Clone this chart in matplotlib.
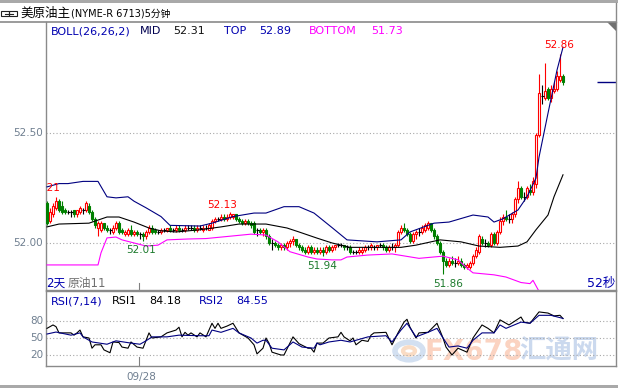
import numpy as np
import matplotlib
matplotlib.use('Agg')
import matplotlib.pyplot as plt
from matplotlib.patches import Polygon, Rectangle, Circle
from matplotlib.lines import Line2D

plt.rcParams['font.family'] = ['DejaVu Sans', 'Noto Sans CJK SC']

# 5 minute candles, one per bar
opens = [52.18, 52.10, 52.13, 52.16, 52.19, 52.17, 52.15, 52.14, 52.14, 52.15,
         52.13, 52.14, 52.15, 52.15, 52.17, 52.14, 52.11, 52.07, 52.06, 52.09,
         52.07, 52.06, 52.05, 52.07, 52.09, 52.06, 52.04, 52.04, 52.06, 52.04,
         52.05, 52.04, 52.04, 52.03, 52.05, 52.07, 52.06, 52.05, 52.05, 52.06,
         52.06, 52.07, 52.06, 52.06, 52.07, 52.06, 52.06, 52.07, 52.07, 52.07,
         52.06, 52.07, 52.06, 52.07, 52.06, 52.07, 52.10, 52.11, 52.11, 52.12,
         52.11, 52.12, 52.12, 52.13, 52.11, 52.10, 52.09, 52.10, 52.09, 52.09,
         52.06, 52.06, 52.05, 52.06, 52.03, 52.00, 52.00, 51.99, 51.98, 51.99,
         51.98, 52.00, 52.01, 52.02, 51.99, 51.98, 51.97, 51.96, 51.98, 51.96,
         51.97, 51.96, 51.97, 51.96, 51.98, 51.97, 51.98, 51.99, 51.99, 51.99,
         51.98, 51.98, 51.96, 51.96, 51.96, 51.96, 51.97, 51.98, 51.98, 51.98,
         51.98, 51.99, 51.99, 51.98, 51.97, 51.98, 51.98, 51.99, 52.05, 52.07,
         52.06, 52.04, 52.01, 52.04, 52.05, 52.05, 52.06, 52.07, 52.09, 52.06,
         52.03, 52.00, 51.96, 51.92, 51.90, 51.92, 51.91, 51.91, 51.92, 51.90,
         51.89, 51.89, 51.91, 51.94, 51.96, 52.02, 52.00, 52.00, 51.99, 52.04,
         52.00, 52.05, 52.10, 52.12, 52.11, 52.11, 52.13, 52.20, 52.25, 52.21,
         52.21, 52.24, 52.23, 52.27, 52.49, 52.67, 52.66, 52.70, 52.66, 52.69,
         52.70, 52.74, 52.76]
highs = [52.19, 52.16, 52.18, 52.21, 52.20, 52.19, 52.16, 52.15, 52.15, 52.15,
         52.15, 52.17, 52.16, 52.19, 52.18, 52.15, 52.12, 52.10, 52.10, 52.09,
         52.08, 52.07, 52.08, 52.10, 52.10, 52.07, 52.06, 52.07, 52.08, 52.06,
         52.06, 52.05, 52.05, 52.06, 52.08, 52.08, 52.07, 52.06, 52.07, 52.07,
         52.07, 52.08, 52.07, 52.08, 52.08, 52.07, 52.08, 52.08, 52.08, 52.08,
         52.08, 52.08, 52.08, 52.08, 52.09, 52.11, 52.12, 52.12, 52.13, 52.13,
         52.13, 52.14, 52.13, 52.13, 52.12, 52.11, 52.11, 52.11, 52.10, 52.10,
         52.07, 52.07, 52.07, 52.07, 52.04, 52.02, 52.01, 52.00, 52.00, 52.00,
         52.01, 52.02, 52.03, 52.02, 52.00, 51.99, 51.98, 51.99, 51.99, 51.98,
         51.98, 51.98, 51.98, 51.99, 51.99, 51.99, 51.99, 52.00, 52.00, 51.99,
         51.99, 51.99, 51.97, 51.97, 51.98, 51.98, 51.99, 51.99, 52.00, 51.99,
         51.99, 52.00, 52.00, 51.99, 51.99, 52.00, 52.00, 52.06, 52.08, 52.09,
         52.07, 52.05, 52.05, 52.06, 52.07, 52.08, 52.09, 52.10, 52.09, 52.07,
         52.04, 52.01, 51.97, 51.93, 51.93, 51.94, 51.93, 51.94, 51.93, 51.91,
         51.91, 51.92, 51.95, 51.98, 52.04, 52.03, 52.02, 52.01, 52.05, 52.05,
         52.06, 52.12, 52.13, 52.15, 52.13, 52.14, 52.21, 52.28, 52.26, 52.23,
         52.26, 52.27, 52.30, 52.50, 52.77, 52.72, 52.82, 52.71, 52.72, 52.73,
         52.78, 52.86, 52.77]
lows = [52.08, 52.09, 52.12, 52.15, 52.14, 52.13, 52.13, 52.13, 52.12, 52.12,
        52.12, 52.13, 52.13, 52.14, 52.13, 52.10, 52.07, 52.03, 52.05, 52.06,
        52.05, 52.04, 52.04, 52.06, 52.04, 52.04, 52.03, 52.03, 52.03, 52.03,
        52.03, 52.02, 52.01, 52.02, 52.04, 52.04, 52.04, 52.04, 52.04, 52.05,
        52.05, 52.05, 52.05, 52.05, 52.05, 52.05, 52.05, 52.06, 52.06, 52.05,
        52.05, 52.06, 52.05, 52.06, 52.06, 52.06, 52.09, 52.10, 52.10, 52.10,
        52.10, 52.11, 52.11, 52.10, 52.09, 52.08, 52.08, 52.08, 52.07, 52.04,
        52.03, 52.04, 52.03, 52.02, 51.99, 51.97, 51.98, 51.97, 51.97, 51.97,
        51.97, 51.98, 51.99, 51.98, 51.97, 51.96, 51.95, 51.95, 51.95, 51.95,
        51.95, 51.95, 51.94, 51.95, 51.96, 51.96, 51.97, 51.98, 51.98, 51.97,
        51.97, 51.95, 51.95, 51.95, 51.95, 51.95, 51.96, 51.97, 51.97, 51.97,
        51.97, 51.98, 51.97, 51.96, 51.96, 51.97, 51.96, 51.98, 52.04, 52.05,
        52.03, 52.00, 52.00, 52.02, 52.03, 52.04, 52.05, 52.06, 52.05, 52.02,
        51.99, 51.95, 51.86, 51.89, 51.89, 51.90, 51.89, 51.90, 51.89, 51.88,
        51.88, 51.88, 51.90, 51.93, 51.95, 51.99, 51.98, 51.98, 51.98, 51.99,
        51.99, 52.04, 52.08, 52.10, 52.09, 52.09, 52.12, 52.18, 52.20, 52.19,
        52.20, 52.22, 52.22, 52.25, 52.48, 52.63, 52.65, 52.65, 52.64, 52.68,
        52.69, 52.73, 52.72]
closes = [52.09, 52.14, 52.17, 52.19, 52.15, 52.14, 52.14, 52.14, 52.14, 52.13,
          52.15, 52.16, 52.15, 52.18, 52.14, 52.11, 52.08, 52.09, 52.09, 52.07,
          52.06, 52.06, 52.07, 52.09, 52.05, 52.05, 52.05, 52.06, 52.04, 52.05,
          52.04, 52.04, 52.03, 52.05, 52.07, 52.05, 52.05, 52.05, 52.06, 52.06,
          52.07, 52.06, 52.06, 52.07, 52.06, 52.06, 52.07, 52.07, 52.07, 52.06,
          52.07, 52.07, 52.07, 52.07, 52.08, 52.10, 52.11, 52.11, 52.12, 52.11,
          52.12, 52.13, 52.13, 52.11, 52.10, 52.09, 52.10, 52.09, 52.08, 52.05,
          52.06, 52.05, 52.06, 52.03, 52.00, 52.00, 51.99, 51.98, 51.99, 51.98,
          52.00, 52.01, 52.02, 51.99, 51.98, 51.97, 51.96, 51.98, 51.96, 51.97,
          51.96, 51.97, 51.96, 51.98, 51.97, 51.98, 51.99, 51.99, 51.99, 51.98,
          51.98, 51.96, 51.96, 51.96, 51.97, 51.97, 51.98, 51.98, 51.99, 51.98,
          51.99, 51.99, 51.98, 51.97, 51.98, 51.98, 51.99, 52.05, 52.07, 52.06,
          52.04, 52.01, 52.04, 52.05, 52.05, 52.07, 52.08, 52.09, 52.06, 52.03,
          52.00, 51.96, 51.92, 51.90, 51.92, 51.91, 51.91, 51.92, 51.90, 51.89,
          51.90, 51.91, 51.94, 51.97, 52.03, 52.00, 52.00, 51.99, 52.04, 52.00,
          52.05, 52.10, 52.12, 52.11, 52.11, 52.13, 52.20, 52.25, 52.21, 52.21,
          52.25, 52.23, 52.28, 52.49, 52.68, 52.67, 52.69, 52.66, 52.70, 52.70,
          52.76, 52.76, 52.73]

# BOLL(26,26,2) lines, read at bar positions
top_idx = [0, 4, 7, 12, 17, 20, 23, 27, 29, 33, 38, 41, 51, 55, 62, 69, 73, 79, 84,
           89, 95, 100, 110, 118, 121, 129, 134, 142, 147, 149, 152, 157, 160, 163,
           164, 167, 170, 172]
top_vals = [52.255, 52.27, 52.27, 52.28, 52.28, 52.21, 52.205, 52.21, 52.19, 52.16,
            52.12, 52.08, 52.077, 52.09, 52.12, 52.136, 52.136, 52.165, 52.165,
            52.136, 52.07, 52.014, 52.005, 52.014, 52.05, 52.09, 52.095, 52.127,
            52.118, 52.095, 52.11, 52.15, 52.21, 52.295, 52.39, 52.59, 52.786, 52.89]
mid_idx = [0, 4, 14, 20, 24, 29, 34, 38, 43, 51, 58, 64, 73, 80, 84, 87, 90, 95, 101,
           112, 118, 123, 131, 138, 144, 151, 157, 160, 163, 167, 169, 172]
mid_vals = [52.073, 52.086, 52.09, 52.118, 52.118, 52.095, 52.068, 52.055, 52.05,
            52.06, 52.073, 52.086, 52.086, 52.068, 52.05, 52.036, 52.022, 52.0, 51.98,
            51.98, 51.98, 51.99, 52.014, 52.005, 51.986, 51.98, 51.986, 52.005, 52.06,
            52.127, 52.21, 52.31]
bot_idx = [0, 17, 18, 20, 23, 25, 29, 33, 37, 40, 47, 53, 62, 68, 73, 77, 81, 87, 90,
           95, 98, 100, 107, 115, 124, 132, 137, 140, 142, 149, 153, 158, 161, 162,
           164, 166, 172]
bot_vals = [51.90, 51.90, 51.955, 52.023, 52.027, 52.014, 52.0, 51.986, 51.99, 52.014,
            52.018, 52.02, 52.032, 52.04, 52.036, 52.005, 51.96, 51.936, 51.927,
            51.923, 51.923, 51.936, 51.945, 51.95, 51.93, 51.94, 51.923, 51.886,
            51.864, 51.855, 51.845, 51.82, 51.815, 51.83, 51.78, 51.75, 51.73]

# RSI(7,14)
rsi1_idx = [0, 2, 3, 4, 8, 9, 10, 11, 12, 14, 15, 16, 18, 19, 21, 22, 24, 25, 27, 28,
            30, 32, 34, 35, 38, 40, 43, 44, 45, 46, 47, 48, 50, 51, 53, 55, 56, 57, 58,
            60, 62, 64, 67, 69, 70, 72, 73, 74, 75, 78, 79, 82, 84, 87, 88, 89, 90, 92,
            94, 97, 98, 99, 101, 102, 103, 105, 107, 108, 109, 113, 115, 117, 119, 120,
            121, 123, 124, 127, 130, 132, 133, 135, 137, 140, 142, 145, 147, 149, 151,
            153, 154, 158, 159, 161, 164, 167, 169, 171, 172]
rsi1_vals = [67, 73, 70, 59, 59, 55, 59, 64, 52, 50, 32, 38, 38, 29, 24, 43, 42, 34, 32,
             43, 34, 32, 59, 50, 52, 59, 64, 69, 52, 60, 55, 59, 52, 59, 52, 76, 67, 76,
             67, 71, 76, 59, 50, 38, 22, 32, 50, 41, 25, 20, 20, 52, 40, 32, 32, 25, 41,
             41, 50, 52, 60, 52, 45, 50, 38, 46, 44, 55, 59, 60, 38, 59, 78, 83, 69, 50,
             59, 60, 76, 50, 34, 20, 32, 25, 50, 73, 67, 59, 82, 76, 73, 87, 78, 76, 96,
             94, 89, 90, 84.18]
rsi2_idx = [0, 3, 8, 11, 12, 15, 20, 23, 28, 31, 33, 35, 38, 40, 44, 51, 54, 55, 58, 62,
            64, 68, 70, 72, 73, 75, 79, 82, 85, 89, 90, 91, 94, 98, 101, 107, 113, 115,
            118, 120, 123, 127, 130, 132, 134, 137, 140, 142, 145, 149, 151, 153, 158,
            161, 164, 168, 172]
rsi2_vals = [57, 60.5, 55, 59, 52, 43, 39, 45, 41, 39, 45, 52, 52, 52, 55, 54, 54, 64,
             60, 67, 59, 50, 41, 46, 46, 32, 29, 43, 34, 32, 41, 38, 43, 46, 43, 52, 54,
             43, 64, 76, 52, 60, 67, 50, 34, 36, 32, 46, 59, 59, 73, 67, 78, 76, 90, 90,
             84.55]

marks = [('52.21', 4.4, 52.25, 'right', '#ff0000'),
         ('52.13', 58.3, 52.173, 'center', '#ff0000'),
         ('52.01', 31.3, 51.968, 'center', '#1c7a2c'),
         ('51.94', 91.7, 51.895, 'center', '#1c7a2c'),
         ('51.86', 133.7, 51.814, 'center', '#1c7a2c'),
         ('52.86', 170.7, 52.90, 'center', '#ff0000')]
day_sep = 30.7

W, H = 618, 388
RED, GREEN, NAVY, MAG = '#ff0000', '#008000', '#000080', '#ff00ff'
LBL = '#6f7f90'
BLUE_TXT = '#0000b0'


def fx(x):
    return x / W


def fy(y):
    return 1 - y / H


fig = plt.figure(figsize=(6.18, 3.88), dpi=100)
fig.patch.set_facecolor('white')

ax = fig.add_axes([fx(46), fy(290), (616 - 46) / W, (290 - 22) / H])
rx = fig.add_axes([fx(46), fy(366), (616 - 46) / W, (366 - 291) / H])
x_lo, x_hi = -1 / 3, (616 - 47) / 3
for a in (ax, rx):
    a.set_facecolor('none')
    a.set_xlim(x_lo, x_hi)
    a.set_xticks([])
    a.set_yticks([])
    for s in a.spines.values():
        s.set_color('#8a8a8a')
        s.set_linewidth(1.0)
ax.spines['top'].set_visible(False)
ax.set_ylim(51.786, 53.005)
rx.set_ylim(0.6, 132.9)

# grid
dot = (0, (1, 2))
for v in (52.5, 52.0):
    ax.axhline(v, color='#a8a8a8', ls=dot, lw=0.8, zorder=1)
for v in (80, 50, 20):
    rx.axhline(v, color='#a8a8a8', ls=dot, lw=0.8, zorder=1)

# candles
x = np.arange(len(closes))
o, h, l, c = map(np.array, (opens, highs, lows, closes))
up = c > o
dn = c < o
eq = c == o
ax.vlines(x[up], l[up], h[up], color=RED, lw=0.8, zorder=3)
ax.vlines(x[dn], l[dn], h[dn], color=GREEN, lw=0.8, zorder=3)
ax.vlines(x[eq], l[eq], h[eq], color='black', lw=0.8, zorder=3)
ax.bar(x[up], (c - o)[up], bottom=o[up], width=0.9, facecolor='white',
       edgecolor=RED, lw=0.8, zorder=4)
ax.bar(x[dn], (o - c)[dn], bottom=c[dn], width=0.9, facecolor=GREEN,
       edgecolor=GREEN, lw=0.8, zorder=4)
ax.hlines(c[eq], x[eq] - 0.5, x[eq] + 0.5, color='black', lw=0.8, zorder=4)

# bands
ax.plot(top_idx, top_vals, color=NAVY, lw=0.8, zorder=5)
ax.plot(mid_idx, mid_vals, color='black', lw=0.8, zorder=5)
ax.plot(bot_idx, bot_vals, color=MAG, lw=0.8, zorder=5)

# last price marker on the right edge
ax.hlines(closes[-1], (597 - 47) / 3, x_hi, color=NAVY, lw=1.0, clip_on=False)

for txt, xi, yv, ha, col in marks:
    ax.text(xi, yv, txt, ha=ha, va='center', color=col, fontsize=7.5,
            clip_on=True, zorder=6)

ax.axvline(day_sep, ymin=0, ymax=7 / 268, color='#808080', lw=0.8)
rx.axvline(day_sep, ymin=0, ymax=9 / 75, color='#808080', lw=0.8)

# RSI
rx.plot(rsi1_idx, rsi1_vals, color='black', lw=0.8, zorder=5)
rx.plot(rsi2_idx, rsi2_vals, color=NAVY, lw=0.8, zorder=5)

# frame lines
fig.add_artist(Rectangle((0, fy(3)), 1, 3 / H, transform=fig.transFigure,
                         facecolor='#a9a9a9', edgecolor='none'))
fig.add_artist(Rectangle((0, 0), 1, 3 / H, transform=fig.transFigure,
                         facecolor='#a9a9a9', edgecolor='none'))
fig.add_artist(Line2D([0, fx(616)], [fy(22), fy(22)], color='#8a8a8a', lw=1.2))
fig.add_artist(Line2D([fx(616), fx(616)], [fy(3), fy(22)], color='#8a8a8a', lw=1.0))
fig.add_artist(Polygon([(fx(607), fy(22)), (fx(616), fy(22)), (fx(616), fy(31))],
                       closed=True, transform=fig.transFigure,
                       facecolor='#707070', edgecolor='none'))

# link icon
for x0 in (1, 9):
    fig.add_artist(Rectangle((fx(x0), fy(16)), 8 / W, 5 / H, transform=fig.transFigure,
                             facecolor='none', edgecolor='#202020', lw=0.8))
fig.add_artist(Line2D([fx(5), fx(13)], [fy(13.5), fy(13.5)], color='#202020', lw=0.8))

# titles
fig.text(fx(20), fy(13), '美原油主', fontsize=9, va='center', color='black')
fig.text(fx(71), fy(13), '(NYME-R 6713)5分钟', fontsize=7, va='center', color='black')

boll = [('BOLL(26,26,2)', 51, BLUE_TXT), ('MID', 140, '#000050'),
        ('52.31', 173, '#101010'), ('TOP', 224, BLUE_TXT), ('52.89', 259, BLUE_TXT),
        ('BOTTOM', 309, MAG), ('51.73', 371, MAG)]
for txt, px, col in boll:
    fig.text(fx(px), fy(31), txt, fontsize=8, va='center', color=col)

rsi = [('RSI(7,14)', 51, BLUE_TXT), ('RSI1', 112, 'black'), ('84.18', 149, 'black'),
       ('RSI2', 199, BLUE_TXT), ('84.55', 236, BLUE_TXT)]
for txt, px, col in rsi:
    fig.text(fx(px), fy(301), txt, fontsize=8, va='center', color=col)

for txt, py in (('52.50', 133), ('52.00', 243), ('80', 321), ('50', 338), ('20', 355)):
    fig.text(fx(43), fy(py), txt, fontsize=7.5, ha='right', va='center', color=LBL)
fig.text(fx(141), fy(377), '09/28', fontsize=7.5, ha='center', va='center', color=LBL)

fig.text(fx(46), fy(283), '2天', fontsize=8.5, va='center', color=BLUE_TXT)
fig.text(fx(68), fy(283), '原油11', fontsize=8.5, va='center', color='#707070')
fig.text(fx(587), fy(283), '52秒', fontsize=9, va='center', color=BLUE_TXT)

# watermark
fig.add_artist(Circle((fx(409), fy(351)), 14 / W, transform=fig.transFigure,
                      facecolor='none', edgecolor='#d3e0f1', lw=4, zorder=-1))
fig.add_artist(Circle((fx(409), fy(351)), 6 / W, transform=fig.transFigure,
                      facecolor='none', edgecolor='#fadcc4', lw=3, zorder=-1))
fig.text(fx(474), fy(352), 'FX678', fontsize=20, fontweight='bold', ha='center',
         va='center', color='#fbd3c1', zorder=-1)
fig.text(fx(559), fy(352), '汇通网', fontsize=19, fontweight='bold', ha='center',
         va='center', color='#cbd9ee', zorder=-1)

fig.savefig('out.png', dpi=100)
